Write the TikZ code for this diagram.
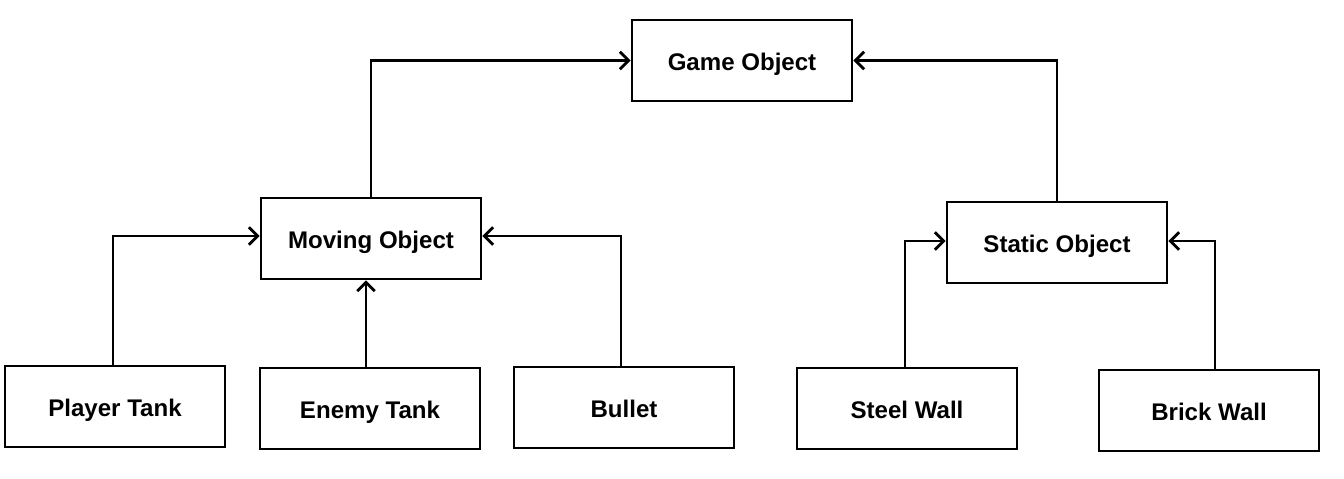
\documentclass[tikz,border=0pt]{standalone}
\usepackage{fontspec}
\setmainfont{Liberation Sans}
\usetikzlibrary{positioning, arrows.meta}

\begin{document}
\begin{tikzpicture}[
                x=0.02cm, y=-0.02cm,
                >={Straight Barb[length=5pt, width=10pt]},
                line width=1.6pt,
                class/.style={draw, rectangle, minimum width=4.4cm, minimum height=1.62cm, inner sep=0pt,
                              text height=11.5pt, text depth=0pt,
                              font=\fontsize{13.7}{16}\selectfont\bfseries},
            ]
                \useasboundingbox (0,0) rectangle (1344,479);

                % Draw the top class
                \node[class] (game) at (742,60.5) {Game Object};

                % Draw the middle classes
                \node[class] (moving) at (371,238.5) {Moving Object};
                \node[class] (static) at (1057,242.5) {Static Object};

                % Draw the bottom classes
                \node[class] (player) at (115,406.5) {Player Tank};
                \node[class] (enemy) at (370,408.5) {Enemy Tank};
                \node[class] (bullet) at (624,407.5) {Bullet};
                \node[class] (steel) at (907,408.5) {Steel Wall};
                \node[class] (brick) at (1209,410.5) {Brick Wall};

                % Connect every class with its parent
                \draw[->] (moving.north) |- (game.west);
                \draw[->] (static.north) |- (game.east);
                \draw[->] ([xshift=-1.1pt]player.north) |- ([yshift=1.4pt]moving.west);
                \draw[->] ([xshift=-2.3pt]enemy.north) -- ([xshift=-2.3pt]enemy.north |- moving.south);
                \draw[->] ([xshift=-1.7pt]bullet.north) |- ([yshift=1.4pt]moving.east);
                \draw[->] ([xshift=-1.1pt]steel.north) |- ([yshift=0.85pt]static.west);
                \draw[->] ([xshift=3.4pt]brick.north) |- ([yshift=0.85pt]static.east);
            \end{tikzpicture}
\end{document}
